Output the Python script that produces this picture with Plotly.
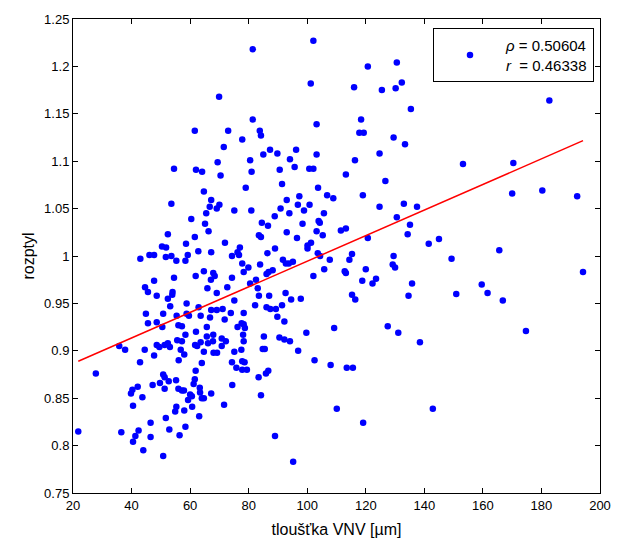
import numpy as np
import plotly.graph_objects as go

# thickness VNV [um]
thickness = [
 81.4, 69.9, 81.4, 61.6, 73.0, 77.8, 71.5, 54.5, 62.0, 64.1, 69.4, 80.5, 70.4, 81.0,
 79.0, 64.7, 53.6, 67.2, 66.7, 70.0, 69.1, 75.1, 80.9, 65.5, 60.4, 65.1, 66.3, 52.4,
 61.6, 71.9, 50.4, 51.8, 58.6, 77.0, 62.8, 67.2, 43.0, 46.1, 47.7, 51.7, 53.6, 55.3,
 59.2, 58.4, 74.3, 76.2, 76.7, 77.8, 79.9, 78.3, 64.7, 61.9, 67.9, 68.4, 67.1, 54.5,
 47.7, 74.3, 80.5, 44.6, 45.6, 65.9, 72.7, 54.0, 53.9, 48.6, 52.4, 69.1, 75.1, 58.8,
 53.2, 62.9, 67.2, 69.1, 71.1, 44.9, 50.8, 55.4, 58.8, 59.6, 63.6, 66.8, 71.8, 73.9,
 78.3, 45.6, 48.6, 50.5, 56.0, 57.2, 65.7, 76.2, 77.6, 78.3, 78.7, 58.4, 62.0, 65.7,
 67.9, 70.8, 78.1,
 35.8, 37.8, 44.5, 42.9, 47.7, 48.6, 49.5, 51.3, 52.4, 53.1, 55.6, 57.2, 56.8, 58.0,
 56.1, 61.7, 62.4, 63.6, 66.1, 64.7, 67.8, 68.0, 69.2, 70.8, 72.2, 64.0, 61.9, 61.6,
 61.2, 63.3, 63.4, 64.0, 64.7, 67.2, 74.3, 75.1, 77.5, 77.8, 78.6, 75.8, 77.8, 79.4,
 78.3, 74.4, 71.6, 27.8, 50.8, 51.3, 49.7, 51.3, 52.7, 55.2, 47.2, 42.1, 40.3, 39.8,
 43.7, 40.5, 56.0, 57.2, 57.9, 60.0, 60.6, 59.3, 60.7, 55.3, 54.9, 58.0, 63.1, 51.7,
 46.5, 52.9, 58.4, 56.4, 42.4, 41.3, 40.5, 46.5, 36.5, 21.8, 44.0, 50.8,
 102.1, 101.2, 120.7, 130.6, 132.3, 130.2, 125.5, 116.0, 135.4, 118.4, 103.2, 83.8,
 84.2, 117.8, 119.3, 129.5, 133.4, 87.3, 96.2, 85.0, 89.8, 103.2, 94.1, 116.3, 124.7,
 90.6, 95.7, 100.7, 102.1, 113.2,
 91.4, 103.7, 126.7, 97.3, 106.8, 108.9, 119.0, 93.0, 96.8, 100.8, 90.9, 98.9, 93.9,
 88.9, 105.7, 124.7, 133.0, 137.5, 84.5, 86.6, 98.4, 103.9, 104.3, 130.6, 135.1, 93.0,
 103.2, 111.5, 113.2, 83.5, 84.2, 105.3, 120.7, 134.3, 96.5, 101.3, 100.1, 100.1, 89.0,
 86.4, 103.6, 104.4, 115.3, 114.4, 129.5, 83.9, 91.7, 92.7, 93.7, 95.1, 107.7, 105.8,
 88.2, 86.8, 86.1, 102.1, 112.8, 113.2, 120.0, 129.2, 130.0, 82.5, 83.1, 123.5, 122.3,
 118.8, 135.8, 92.6, 83.5, 87.0, 94.5, 97.8, 115.3, 116.4, 134.6, 82.2, 86.1, 87.4,
 89.3, 91.4, 89.8, 92.2, 109.2, 99.7, 127.5, 131.1, 85.2, 90.5,
 138.5, 92.2, 94.1, 84.8, 85.5, 96.9, 102.5, 108.0, 113.5, 115.6, 83.4, 85.9, 86.7,
 84.2, 110.1, 119.1, 89.0, 95.2,
 182.7, 153.2, 170.4, 170.0, 180.3, 192.2, 141.5, 145.0, 149.3, 165.6, 150.9, 159.6,
 161.6, 166.8, 194.2, 174.7, 142.9,
]

# rozptyl
variance = [
 1.218, 1.168, 1.144, 1.132, 1.132, 1.123, 1.115, 1.092, 1.091, 1.089, 1.099, 1.101, 1.085, 1.089,
 1.072, 1.068, 1.055, 1.059, 1.052, 1.054, 1.050, 1.048, 1.048, 1.045, 1.039, 1.034, 1.026, 1.023,
 1.020, 1.014, 1.010, 1.009, 1.013, 1.009, 1.005, 1.004, 0.997, 1.001, 1.001, 0.999, 1.000, 0.995,
 1.001, 0.995, 1.000, 1.004, 1.001, 0.992, 0.988, 0.983, 0.984, 0.979, 0.982, 0.979, 0.975, 0.977,
 0.974, 0.977, 0.971, 0.967, 0.962, 0.966, 0.967, 0.962, 0.959, 0.958, 0.955, 0.961, 0.953, 0.950,
 0.947, 0.946, 0.943, 0.943, 0.944, 0.939, 0.939, 0.937, 0.939, 0.937, 0.937, 0.935, 0.933, 0.940,
 0.940, 0.929, 0.930, 0.925, 0.927, 0.926, 0.925, 0.925, 0.929, 0.928, 0.924, 0.917, 0.920, 0.915,
 0.917, 0.913, 0.917,
 0.905, 0.901, 0.901, 0.888, 0.895, 0.906, 0.904, 0.906, 0.908, 0.904, 0.911, 0.910, 0.901, 0.896,
 0.890, 0.906, 0.905, 0.909, 0.908, 0.899, 0.910, 0.898, 0.898, 0.905, 0.910, 0.887, 0.879, 0.870,
 0.865, 0.861, 0.856, 0.850, 0.850, 0.855, 0.888, 0.899, 0.901, 0.889, 0.888, 0.882, 0.880, 0.880,
 0.910, 0.864, 0.843, 0.876, 0.875, 0.872, 0.866, 0.860, 0.868, 0.869, 0.864, 0.862, 0.859, 0.855,
 0.851, 0.842, 0.860, 0.858, 0.858, 0.854, 0.852, 0.848, 0.841, 0.841, 0.836, 0.837, 0.831, 0.829,
 0.824, 0.817, 0.820, 0.811, 0.816, 0.810, 0.804, 0.809, 0.814, 0.815, 0.795, 0.789,
 1.227, 1.182, 1.200, 1.204, 1.183, 1.177, 1.175, 1.178, 1.155, 1.144, 1.139, 1.132,
 1.127, 1.130, 1.130, 1.125, 1.118, 1.112, 1.112, 1.107, 1.108, 1.107, 1.102, 1.101, 1.108,
 1.091, 1.094, 1.092, 1.092, 1.086,
 1.076, 1.072, 1.079, 1.063, 1.064, 1.061, 1.064, 1.059, 1.054, 1.054, 1.050, 1.048, 1.045,
 1.042, 1.045, 1.052, 1.055, 1.052, 1.035, 1.032, 1.034, 1.037, 1.035, 1.041, 1.033, 1.025,
 1.026, 1.027, 1.029, 1.022, 1.020, 1.022, 1.019, 1.023, 1.019, 1.014, 1.011, 1.008, 1.008,
 1.003, 1.003, 1.000, 1.002, 0.996, 1.000, 0.991, 0.996, 0.992, 0.992, 0.994, 0.996, 0.986,
 0.985, 0.983, 0.981, 0.979, 0.984, 0.982, 0.986, 0.991, 0.988, 0.975, 0.966, 0.976, 0.971,
 0.974, 0.971, 0.961, 0.958, 0.958, 0.954, 0.955, 0.959, 0.954, 0.958, 0.948, 0.946, 0.944,
 0.944, 0.948, 0.936, 0.931, 0.924, 0.919, 0.926, 0.919, 0.915, 0.914,
 0.909, 0.912, 0.910, 0.902, 0.902, 0.900, 0.890, 0.885, 0.882, 0.882, 0.872, 0.876, 0.879,
 0.853, 0.839, 0.824, 0.810, 0.783,
 1.164, 1.097, 1.098, 1.066, 1.069, 1.063, 1.013, 1.018, 0.997, 1.006, 0.960, 0.970,
 0.961, 0.953, 0.983, 0.921, 0.839,
]

# least-squares line
fit_slope = 0.00135
fit_intercept = 0.8595
rho_text = "0.50604"
r_text = "0.46338"

x_ticks = [20, 40, 60, 80, 100, 120, 140, 160, 180, 200]
y_ticks = [0.75, 0.8, 0.85, 0.9, 0.95, 1.0, 1.05, 1.1, 1.15, 1.2, 1.25]
y_tick_text = ["0.75", "0.8", "0.85", "0.9", "0.95", "1", "1.05", "1.1", "1.15", "1.2", "1.25"]

xs = np.array(thickness)
fit_x = np.array([xs.min(), xs.max()])
fit_y = fit_intercept + fit_slope * fit_x

FONT = "Liberation Sans, Arial, sans-serif"

fig = go.Figure()
fig.add_trace(go.Scatter(
    x=thickness, y=variance, mode="markers",
    marker=dict(color="#0000ff", size=6.5, line=dict(width=0)),
    name="<i>ρ</i> = " + rho_text + "<br><i>r</i>  = " + r_text,
    showlegend=True,
))
fig.add_trace(go.Scatter(
    x=fit_x, y=fit_y, mode="lines",
    line=dict(color="#ff0000", width=1.5),
    showlegend=False,
))

axis_common = dict(
    showgrid=False, zeroline=False, showline=True, linecolor="black", linewidth=1,
    mirror="ticks", ticks="inside", ticklen=5, tickwidth=1, tickcolor="black",
    tickfont=dict(family=FONT, size=13, color="black"),
)
fig.update_xaxes(range=[20, 200], tickvals=x_ticks,
                 title=dict(text="tloušťka VNV [µm]", font=dict(family=FONT, size=16, color="black"), standoff=12),
                 **axis_common)
fig.update_yaxes(range=[0.75, 1.25], tickvals=y_ticks, ticktext=y_tick_text,
                 title=dict(text="rozptyl", font=dict(family=FONT, size=16, color="black"), standoff=5),
                 **axis_common)

fig.update_layout(
    width=630, height=548,
    margin=dict(l=73, r=30, t=15, b=51),
    paper_bgcolor="white", plot_bgcolor="white",
    legend=dict(x=0.9886, y=0.981, xanchor="right", yanchor="top",
                bordercolor="black", borderwidth=1, bgcolor="white",
                font=dict(family=FONT, size=15, color="black"),
                itemwidth=62),
)

fig.write_html("out.html")
